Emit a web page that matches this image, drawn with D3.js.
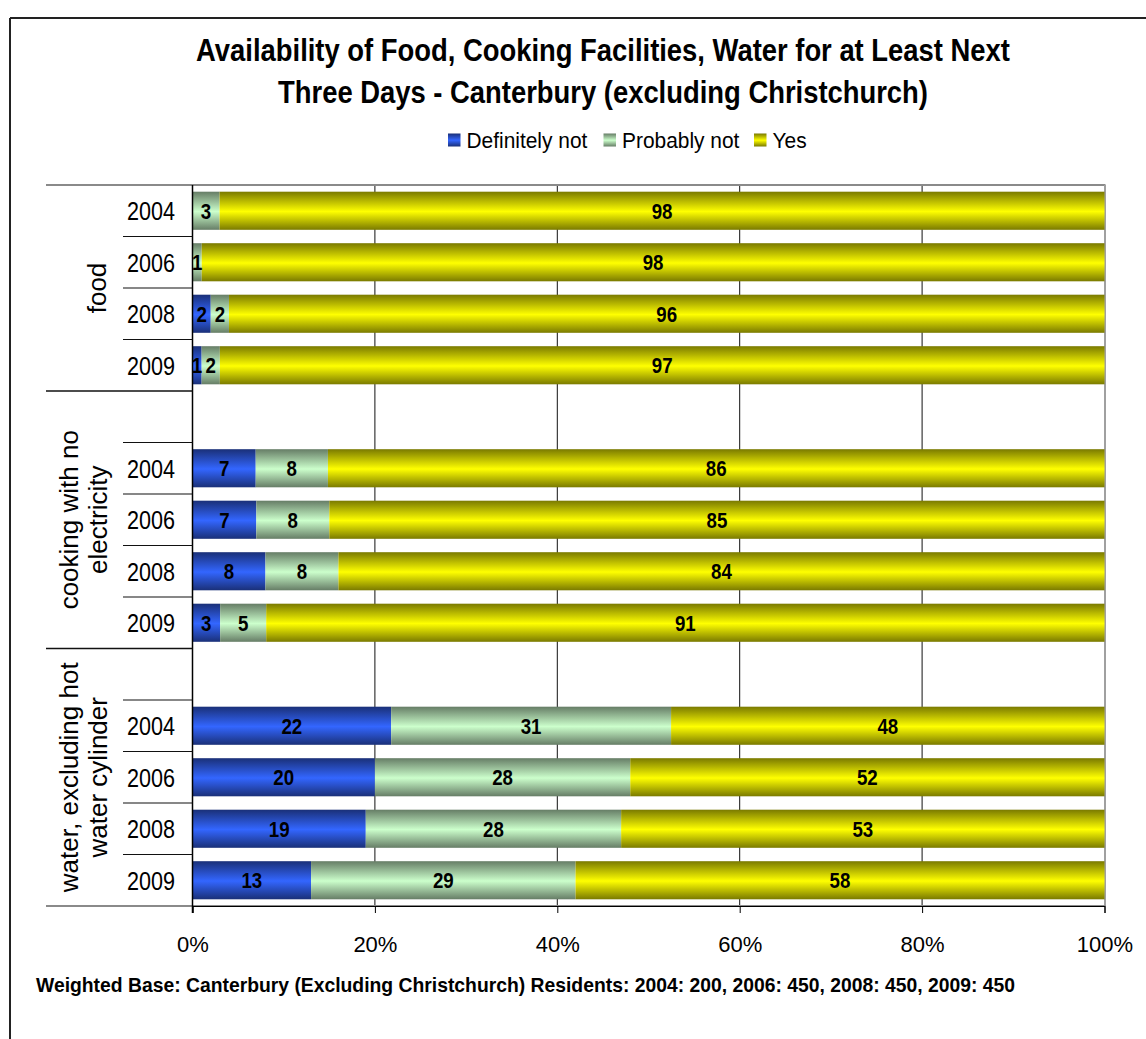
<!DOCTYPE html>
<html>
<head>
<meta charset="utf-8">
<script src="https://cdn.jsdelivr.net/npm/d3@7"></script>
<style>
  html, body { margin: 0; padding: 0; background: #fff; }
  svg { display: block; }
  text { font-family: "Liberation Sans", Arial, sans-serif; fill: #000; }
</style>
</head>
<body>
<svg id="chart" width="1146" height="1039"></svg>
<script>
// ---------------- data ----------------
const titleLines = ["Availability of Food, Cooking Facilities, Water for at Least Next",
                    "Three Days - Canterbury (excluding Christchurch)"];
const footnote = "Weighted Base: Canterbury (Excluding Christchurch) Residents: 2004: 200, 2006: 450, 2008: 450, 2009: 450";
const seriesNames = ["Definitely not", "Probably not", "Yes"];
const groupLabelLines = [["food"], ["cooking with no", "electricity"], ["water, excluding hot", "water cylinder"]];
const years = ["2004", "2006", "2008", "2009"];
// one value per (group, year), in order food 2004..2009, cooking 2004..2009, water 2004..2009
const definitelyNot = [0, 0, 2, 1,   7, 7, 8, 3,   22, 20, 19, 13];
const probablyNot   = [3, 1, 2, 2,   8, 8, 8, 5,   31, 28, 28, 29];
const yesValues     = [98, 98, 96, 97, 86, 85, 84, 91, 48, 52, 53, 58];
const xTicks = [0, 20, 40, 60, 80, 100];
const xTickLabels = ["0%", "20%", "40%", "60%", "80%", "100%"];

// ---------------- styles ----------------
const colors = [
  { edge: "#1a3078", mid: "#3366ff" },
  { edge: "#667d66", mid: "#ccffcc" },
  { edge: "#7a7a00", mid: "#ffff00" }
];

const svg = d3.select("#chart");
const FONT = '"Liberation Sans", Arial, sans-serif';

function condense(sel, f) {
  sel.each(function () {
    const L = this.getComputedTextLength();
    this.setAttribute("textLength", (L * f).toFixed(2));
    this.setAttribute("lengthAdjust", "spacingAndGlyphs");
  });
}

// gradients
const defs = svg.append("defs");
colors.forEach((c, i) => {
  const g = defs.append("linearGradient").attr("id", "grad" + i)
    .attr("x1", 0).attr("y1", 0).attr("x2", 0).attr("y2", 1);
  g.append("stop").attr("offset", "0%").attr("stop-color", c.edge);
  g.append("stop").attr("offset", "52%").attr("stop-color", c.mid);
  g.append("stop").attr("offset", "100%").attr("stop-color", c.edge);
});

// outer frame
svg.append("line").attr("x1", 10).attr("x2", 1146).attr("y1", 18).attr("y2", 18)
  .attr("stroke", "#222").attr("stroke-width", 2);
svg.append("line").attr("x1", 10).attr("x2", 10).attr("y1", 18).attr("y2", 1039)
  .attr("stroke", "#222").attr("stroke-width", 2);

// title
const titleSel = svg.append("g").selectAll("text").data(titleLines).join("text")
  .attr("x", 603).attr("y", (d, i) => 61 + i * 41.5)
  .attr("text-anchor", "middle")
  .attr("font-size", 32).attr("font-weight", "bold")
  .text(d => d);
condense(titleSel, 0.856);

// ---------------- scales ----------------
const plotLeft = 192.5, plotRight = 1104.5, plotTop = 185, plotBottom = 906;

const slots = [];
groupLabelLines.forEach((g, gi) => {
  if (gi > 0) slots.push({ key: "blank" + gi, group: gi, year: null });
  years.forEach((y, yi) => slots.push({ key: gi + "-" + y, group: gi, year: y, idx: gi * years.length + yi }));
});

const y = d3.scaleBand().domain(slots.map(s => s.key))
  .range([plotTop, plotBottom]).paddingInner(0.26).paddingOuter(0.13);
const x = d3.scaleLinear().domain([0, 100]).range([plotLeft, plotRight]);

const rows = slots.filter(s => s.year !== null).map(s => {
  const vals = [definitelyNot[s.idx], probablyNot[s.idx], yesValues[s.idx]];
  const total = d3.sum(vals);
  let acc = 0;
  const segs = vals.map((v, k) => {
    const x0 = acc / total * 100; acc += v;
    return { key: s.key, series: k, value: v, x0, x1: acc / total * 100 };
  });
  return { key: s.key, segs };
});

// gridlines
svg.append("g").selectAll("line").data(xTicks.filter(t => t > 0 && t < 100)).join("line")
  .attr("x1", d => x(d)).attr("x2", d => x(d))
  .attr("y1", plotTop).attr("y2", plotBottom)
  .attr("stroke", "#111").attr("stroke-width", 1);

// plot frame (gray) top/right/bottom
svg.append("line").attr("x1", 46).attr("x2", plotRight + 1).attr("y1", plotTop).attr("y2", plotTop)
  .attr("stroke", "#8a8a8a").attr("stroke-width", 2);
svg.append("line").attr("x1", plotRight + 0.5).attr("x2", plotRight + 0.5).attr("y1", plotTop).attr("y2", plotBottom)
  .attr("stroke", "#a0a0a0").attr("stroke-width", 2);
svg.append("line").attr("x1", 46).attr("x2", plotRight + 1).attr("y1", plotBottom).attr("y2", plotBottom)
  .attr("stroke", "#8a8a8a").attr("stroke-width", 2);

// bars
const barG = svg.append("g");
rows.forEach(r => {
  barG.selectAll(null).data(r.segs.filter(s => s.value > 0)).join("rect")
    .attr("x", d => x(d.x0)).attr("width", d => x(d.x1) - x(d.x0))
    .attr("y", d => y(d.key)).attr("height", y.bandwidth())
    .attr("fill", d => `url(#grad${d.series})`);
});

// data labels
const lblG = svg.append("g");
rows.forEach(r => {
  const t = lblG.selectAll(null).data(r.segs.filter(s => s.value > 0)).join("text")
    .attr("x", d => (x(d.x0) + x(d.x1)) / 2)
    .attr("y", d => y(d.key) + y.bandwidth() / 2 + 8)
    .attr("text-anchor", "middle")
    .attr("font-size", 22).attr("font-weight", "bold")
    .text(d => d.value);
  condense(t, 0.85);
});

// x axis
const xAxis = d3.axisBottom(x).tickValues(xTicks).tickSize(7).tickFormat((d, i) => xTickLabels[i]);
const xg = svg.append("g").attr("transform", `translate(0,${plotBottom})`).call(xAxis);
xg.select(".domain").attr("stroke", "#000").attr("stroke-width", 1);
xg.selectAll(".tick line").attr("stroke", "#000");
xg.selectAll(".tick text").attr("font-family", FONT).attr("font-size", 22).attr("fill", "#000")
  .attr("dy", 0).attr("y", 46);

// category (value) axis line at 0%
svg.append("line").attr("x1", plotLeft).attr("x2", plotLeft).attr("y1", plotTop).attr("y2", plotBottom + 7)
  .attr("stroke", "#000").attr("stroke-width", 1.5);

// year separators and labels
const step = y.step();
const catG = svg.append("g");
slots.forEach((s, i) => {
  const top = plotTop + i * step;
  const first = i === 0 || slots[i - 1].group !== s.group;
  if (!first) {
    catG.append("line").attr("x1", 123).attr("x2", plotLeft).attr("y1", top).attr("y2", top)
      .attr("stroke", "#111").attr("stroke-width", 1.2);
  }
});
const yearSel = catG.selectAll("text.year").data(slots.filter(s => s.year)).join("text")
  .attr("class", "year")
  .attr("x", 175).attr("y", d => y(d.key) + y.bandwidth() / 2 + 9.3)
  .attr("text-anchor", "end").attr("font-size", 26)
  .text(d => d.year);
condense(yearSel, 0.83);

// group boundaries & labels
groupLabelLines.forEach((lines, gi) => {
  const gs = slots.filter(s => s.group === gi);
  const g0 = y(gs[0].key) - y.step() * y.paddingInner() / 2;
  const g1 = y(gs[gs.length - 1].key) + y.bandwidth() + y.step() * y.paddingInner() / 2;
  if (gi > 0) {
    catG.append("line").attr("x1", 46).attr("x2", plotLeft).attr("y1", g0).attr("y2", g0)
      .attr("stroke", "#111").attr("stroke-width", 1.5);
  }
  const cy = (g0 + g1) / 2;
  const xs = lines.length === 1 ? [97] : [69, 98];
  lines.forEach((ln, li) => {
    catG.append("text")
      .attr("transform", `translate(${xs[li] + 9},${cy}) rotate(-90)`)
      .attr("text-anchor", "middle").attr("font-size", 26)
      .text(ln);
  });
});

// legend
const legendX = [448, 603.5, 754];
const lg = svg.append("g");
seriesNames.forEach((n, i) => {
  lg.append("rect").attr("x", legendX[i]).attr("y", 133.5).attr("width", 12.5).attr("height", 13)
    .attr("fill", `url(#grad${i})`);
  const t = lg.append("text").attr("x", legendX[i] + 18.5).attr("y", 147.5)
    .attr("font-size", 22).text(n);
  condense(t, 0.95);
});

// footnote
const fn = svg.append("text").attr("x", 36).attr("y", 992)
  .attr("font-size", 21).attr("font-weight", "bold").text(footnote);
fn.attr("textLength", 979).attr("lengthAdjust", "spacingAndGlyphs");
</script>
</body>
</html>
